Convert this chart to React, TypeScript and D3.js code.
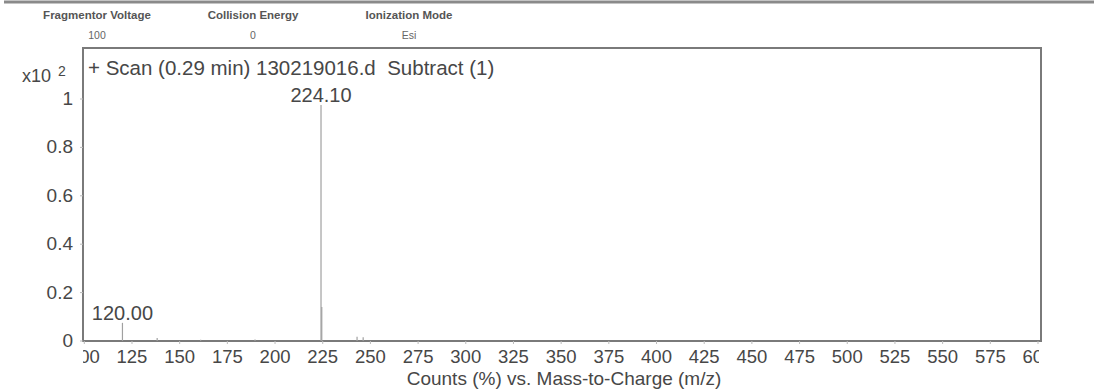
import React from 'react';
import * as d3 from 'd3';

// Mass spectrum peaks (m/z, relative counts x10^2)
const peakMz = [120.0, 138.2, 161.0, 189.5, 224.1, 224.5, 243.0, 246.2];
const peakCounts = [0.075, 0.012, 0.005, 0.006, 0.975, 0.14, 0.018, 0.015];

const labelledMz = [120.0, 224.1];
const labelledText = ['120.00', '224.10'];

const xTicks = d3.range(100, 601, 25);
const yTicks = [0, 0.2, 0.4, 0.6, 0.8, 1];

const headerNames = ['Fragmentor Voltage', 'Collision Energy', 'Ionization Mode'];
const headerValues = ['100', '0', 'Esi'];

const W = 1094;
const H = 389;
const box = { left: 83, right: 1041, top: 48, bottom: 341 };
const font = '"Liberation Sans", Arial, sans-serif';
const textCol = '#474747';

const App: React.FC = () => {
  const x = d3.scaleLinear().domain([100, 600]).range([84.3, 1038]);
  const y = d3.scaleLinear().domain([0, 1]).range([box.bottom, 99]);
  const headerX = d3.scalePoint<string>().domain(headerNames).range([97, 409]);

  return (
    <svg
      width={W}
      height={H}
      viewBox={`0 0 ${W} ${H}`}
      style={{ position: 'absolute', left: 0, top: 0, background: '#fff' }}
      fontFamily={font}
    >
      <defs>
        <clipPath id="xclip">
          <rect x={box.left} y={box.bottom} width={box.right - box.left - 2} height={28} />
        </clipPath>
      </defs>

      {/* top border line of the report */}
      <line x1={4} x2={W} y1={2} y2={2} stroke="#8a8a8a" strokeWidth={3} />

      {/* header fields */}
      {headerNames.map((n, i) => (
        <g key={n}>
          <text x={headerX(n)} y={19} textAnchor="middle" fontSize={11.5} fontWeight="bold" fill="#555">
            {n}
          </text>
          <text x={headerX(n)} y={39} textAnchor="middle" fontSize={10.5} fill="#666">
            {headerValues[i]}
          </text>
        </g>
      ))}

      {/* plot frame */}
      <rect
        x={box.left}
        y={box.top}
        width={box.right - box.left}
        height={box.bottom - box.top}
        fill="none"
        stroke="#7a7a7a"
        strokeWidth={2}
      />

      {/* peaks */}
      {peakMz.map((m, i) => (
        <line
          key={i}
          x1={x(m)}
          x2={x(m)}
          y1={box.bottom}
          y2={y(peakCounts[i])}
          stroke="#a0a0a0"
          strokeWidth={1.2}
        />
      ))}

      {/* peak labels */}
      {labelledMz.map((m, i) => {
        const idx = peakMz.indexOf(m);
        return (
          <text
            key={m}
            x={x(m)}
            y={y(peakCounts[idx]) - 3}
            textAnchor="middle"
            fontSize={20}
            fill={textCol}
          >
            {labelledText[i]}
          </text>
        );
      })}

      {/* y axis */}
      {yTicks.map((t) => (
        <g key={t}>
          <line x1={box.left - 3} x2={box.left} y1={y(t)} y2={y(t)} stroke="#bbb" />
          <text x={box.left - 10} y={y(t) + 6} textAnchor="end" fontSize={19} fill={textCol}>
            {String(t)}
          </text>
        </g>
      ))}
      <text x={22} y={82} fontSize={18} fill={textCol}>
        x10
      </text>
      <text x={58} y={76} fontSize={14} fill={textCol}>
        2
      </text>

      {/* x axis */}
      <g clipPath="url(#xclip)">
        {xTicks.map((t) => (
          <g key={t}>
            <line x1={x(t)} x2={x(t)} y1={box.bottom} y2={box.bottom + 3} stroke="#bbb" />
            <text x={x(t)} y={363} textAnchor="middle" fontSize={18.5} fill={textCol}>
              {String(t)}
            </text>
          </g>
        ))}
      </g>
      <text x={564} y={385} textAnchor="middle" fontSize={19} fill={textCol}>
        Counts (%) vs. Mass-to-Charge (m/z)
      </text>

      {/* scan title */}
      <text x={88} y={75} fontSize={20.5} fill={textCol}>
        + Scan (0.29 min) 130219016.d{'\u00a0\u00a0'}Subtract (1)
      </text>
    </svg>
  );
};

export default App;
